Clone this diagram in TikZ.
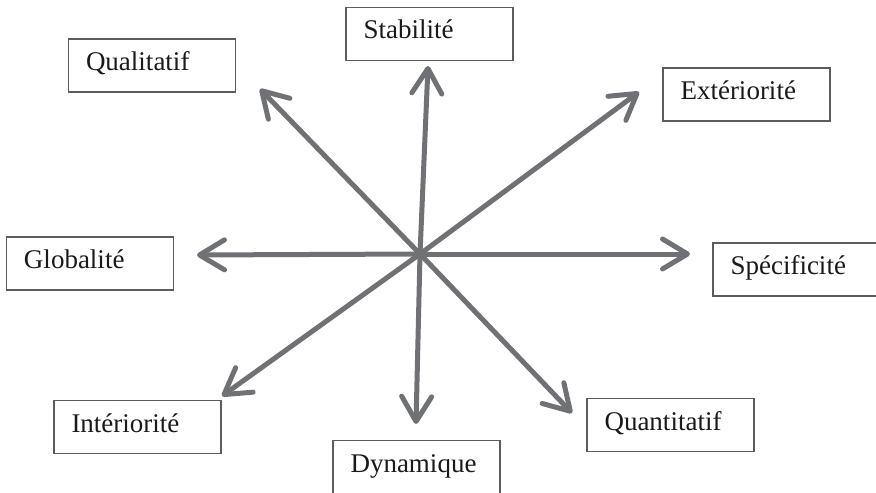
\documentclass[tikz,border=0pt]{standalone}
\usepackage{fontspec}
\setmainfont{Liberation Serif}
\usepackage{xcolor}
\usetikzlibrary{arrows.meta,positioning}
\definecolor{ink}{HTML}{1A1A1A}
\definecolor{boxgray}{HTML}{5C5C5C}
\definecolor{arrgray}{HTML}{707174}
\tikzset{
  axisbox/.style={draw=boxgray,line width=0.8pt,minimum width=83.5pt,
                  minimum height=26.5pt,text width=66pt,inner xsep=8.75pt,
                  inner ysep=0pt,text height=10pt,text depth=5pt,align=left,
                  font=\fontsize{13.5pt}{15pt}\selectfont,text=ink},
  grayarr/.style={-{Straight Barb[length=12.5pt,width=15pt,round]},
                  line width=2.5pt,draw=arrgray}
}
\begin{document}
\begin{tikzpicture}[x=0.5pt,y=-0.5pt]
    \useasboundingbox (0,0) rectangle (876,492);

    % boxes
    \node[axisbox] (stab)  at (429.5,34)  {Stabilité};
    \node[axisbox] (qual)  at (152,65.5)  {Qualitatif};
    \node[axisbox] (ext)   at (746.5,94.5) {Extériorité};
    \node[axisbox] (glob)  at (90,263.5)  {Globalité};
    \node[axisbox] (spec)  at (796.5,269.5) {Spécificité};
    \node[axisbox] (inter) at (137.5,427) {Intériorité};
    \node[axisbox] (dyn)   at (416.5,467) {Dynamique};
    \node[axisbox] (quant) at (670.5,425) {Quantitatif};

    % arrow tips
    \coordinate (c) at (420,254);
    \coordinate (t-stab)  at (428,66);
    \coordinate (t-qual)  at (260,89);
    \coordinate (t-ext)   at (639,92);
    \coordinate (t-glob)  at (197,255);
    \coordinate (t-spec)  at (690,254);
    \coordinate (t-inter) at (222,396);
    \coordinate (t-dyn)   at (416,424);
    \coordinate (t-quant) at (572,413);

    \foreach \t in {stab,qual,ext,glob,spec,inter,dyn,quant}{
      \draw[grayarr] (c) -- (t-\t);
    }
\end{tikzpicture}
\end{document}
